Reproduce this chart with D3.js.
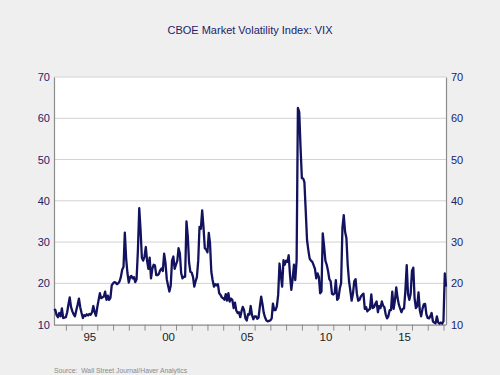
<!DOCTYPE html>
<html>
<head>
<meta charset="utf-8">
<script src="https://cdn.jsdelivr.net/npm/d3@7"></script>
<style>
  html, body { margin: 0; padding: 0; background: #efefef; }
  svg { display: block; font-family: 'Liberation Sans', Arial, sans-serif; }
</style>
</head>
<body>
<div id="chart"></div>
<script>
// Monthly VIX, Apr 1993 through Mar 2018
const startYear = 1993;
const startMonth = 3; // April (0-based)

const vix1990s = [
  13.4, 13.6, 12.3, 11.8, 12.8, 12.0, 13.9, 11.6, 11.7,
  11.8, 13.0, 14.8, 16.6, 14.3, 13.2, 12.5, 12.0, 13.5, 14.8, 16.3, 14.2,
  12.8, 11.6, 12.3, 12.1, 12.5, 12.2, 12.6, 12.4, 13.0, 14.5, 13.0, 12.1,
  14.2, 16.0, 17.6, 16.4, 16.6, 16.8, 18.0, 16.0, 17.0, 16.0, 16.5, 19.5,
  20.0, 20.3, 20.2, 19.8, 20.0, 20.5, 21.5, 23.3, 24.0, 32.3, 26.0, 22.5,
  20.2, 21.5, 21.8, 21.2, 21.5, 20.3, 21.0, 28.0, 38.2, 33.0, 26.2, 25.5,
  26.5, 28.8, 25.5, 23.5, 26.2, 21.2, 23.5, 24.5, 24.3, 22.0, 22.0, 22.3
];

const vix2000s = [
  23.2, 23.6, 23.0, 27.2, 25.0, 21.0, 19.5, 18.0, 19.5, 25.5, 26.5, 23.5,
  24.5, 25.5, 28.5, 27.3, 22.5, 21.2, 21.6, 21.6, 35.0, 31.5, 25.0, 22.8,
  22.6, 21.5, 19.2, 20.5, 21.5, 25.5, 33.7, 33.2, 37.7, 33.7, 28.5, 28.2,
  27.5, 32.2, 29.8, 22.8, 20.8, 19.2, 19.8, 19.5, 19.8, 17.6, 17.2, 16.6,
  16.4, 16.0, 17.4, 15.8, 17.6, 15.6, 16.3, 16.0, 14.0, 15.3, 13.4, 12.8,
  13.0, 11.8, 13.2, 14.3, 13.5, 11.5, 11.0, 12.5, 12.4, 14.5, 12.3, 11.3,
  12.0, 12.0, 11.4, 11.7, 14.3, 16.8, 15.0, 12.8, 11.7, 11.0, 10.8, 10.9,
  11.0, 11.5, 15.1, 13.5, 13.5, 14.5, 17.2, 24.8, 22.0, 19.2, 25.6, 24.5,
  25.5, 25.2, 26.8, 22.0, 18.4, 21.0, 24.5, 20.8, 25.5, 62.5, 61.5, 53.0,
  45.5, 45.4, 44.5, 37.5, 30.5, 28.0, 26.0, 25.5, 25.2, 24.4, 23.5, 21.2
];

const vix2010s = [
  22.4, 21.5, 17.6, 18.0, 32.1, 29.0, 25.5, 24.5, 23.0, 21.0, 20.5, 17.5,
  17.3, 17.6, 20.8, 16.0, 16.4, 18.8, 20.0, 33.5, 36.5, 32.5, 31.0, 24.5,
  20.5, 18.2, 15.8, 17.5, 20.5, 21.0, 17.5, 15.8, 16.0, 16.8, 17.2, 17.5,
  13.8, 14.2, 13.2, 13.6, 13.8, 17.3, 14.0, 14.2, 15.0, 15.6, 13.0, 14.5,
  14.0, 15.6, 14.6, 14.2, 12.5, 11.5, 12.0, 13.5, 13.5, 18.0, 13.8, 15.8,
  19.0, 16.5, 14.9, 13.9, 13.0, 13.8, 13.9, 18.2, 24.4, 17.4, 16.0, 17.4,
  23.0, 23.8, 16.5, 14.0, 14.5, 17.8, 13.5, 12.0, 13.8, 14.9, 15.0, 12.5,
  11.6, 11.5, 12.0, 12.8, 10.8, 10.5, 10.3, 12.0, 10.5, 10.2, 10.5, 10.2,
  10.8, 22.4, 19.2
];

const yTicks = [10, 20, 30, 40, 50, 60, 70];
const labelYears = [1995, 2000, 2005, 2010, 2015];
const titleText = 'CBOE Market Volatility Index: VIX';
const sourceText = 'Source:  Wall Street Journal/Haver Analytics';

const values = [...vix1990s, ...vix2000s, ...vix2010s];
const data = values.map((v, i) => ({ date: new Date(startYear, startMonth + i, 1), value: v }));

const W = 500, H = 375;
const plot = { left: 54, right: 446, top: 77, bottom: 324.6 };

const svg = d3.select('#chart')
  .append('svg')
  .attr('width', W)
  .attr('height', H);

svg.append('rect')
  .attr('width', W)
  .attr('height', H)
  .attr('fill', '#efefef');

// Scales
const x = d3.scaleTime()
  .domain(d3.extent(data, d => d.date))
  .range([plot.left, plot.right]);

const y = d3.scaleLinear()
  .domain([10, 70])
  .range([plot.bottom, plot.top]);

// Plot background
svg.append('rect')
  .attr('x', plot.left)
  .attr('y', plot.top)
  .attr('width', plot.right - plot.left)
  .attr('height', plot.bottom - plot.top)
  .attr('fill', '#fff');

// Gridlines
svg.append('g')
  .selectAll('line')
  .data(yTicks.slice(1))
  .join('line')
  .attr('x1', plot.left)
  .attr('x2', plot.right)
  .attr('y1', d => y(d))
  .attr('y2', d => y(d))
  .attr('stroke', '#d2d2d2')
  .attr('stroke-width', 1);

// Left and right value axes
const leftAxis = svg.append('g')
  .attr('transform', `translate(${plot.left},0)`)
  .call(d3.axisLeft(y).tickValues(yTicks).tickSize(0).tickPadding(4));

const rightAxis = svg.append('g')
  .attr('transform', `translate(${plot.right},0)`)
  .call(d3.axisRight(y).tickValues(yTicks).tickSize(0).tickPadding(5));

[leftAxis, rightAxis].forEach(ax => {
  ax.select('.domain').attr('stroke', '#8c8c8c').attr('stroke-width', 1.2);
  ax.selectAll('text')
    .attr('fill', '#22226a')
    .style('font-size', '11px')
    .style('font-family', "'Liberation Sans', Arial, sans-serif");
});

// Year ticks along the bottom
const yearStarts = d3.timeYear.range(new Date(1994, 0, 1), new Date(2018, 1, 1));
const xAxis = svg.append('g')
  .attr('transform', `translate(0,${plot.bottom})`)
  .call(d3.axisBottom(x).tickValues(yearStarts).tickSize(6).tickFormat(''));

xAxis.select('.domain').remove();
xAxis.selectAll('line').attr('stroke', '#8c8c8c');

svg.append('line')
  .attr('x1', plot.left)
  .attr('x2', plot.right)
  .attr('y1', plot.bottom + 0.5)
  .attr('y2', plot.bottom + 0.5)
  .attr('stroke', '#8c8c8c')
  .attr('stroke-width', 1.2);

// Year labels sit between the ticks
const xLabels = svg.append('g')
  .attr('transform', `translate(0,${plot.bottom})`)
  .call(d3.axisBottom(x)
    .tickValues(labelYears.map(yr => new Date(yr, 6, 1)))
    .tickSize(0)
    .tickPadding(8)
    .tickFormat(d3.timeFormat('%y')));

xLabels.select('.domain').remove();
xLabels.selectAll('text')
  .attr('fill', '#222')
  .style('font-size', '11.5px')
  .style('font-family', "'Liberation Sans', Arial, sans-serif");

// VIX line
const line = d3.line()
  .x(d => x(d.date))
  .y(d => y(d.value));

svg.append('path')
  .datum(data)
  .attr('d', line)
  .attr('fill', 'none')
  .attr('stroke', '#12125e')
  .attr('stroke-width', 2.3)
  .attr('stroke-linejoin', 'round');

// Title
svg.append('text')
  .attr('x', W / 2)
  .attr('y', 34)
  .attr('text-anchor', 'middle')
  .attr('fill', '#22226a')
  .style('font-size', '11px')
  .text(titleText);

// Source note
svg.append('text')
  .attr('x', 54)
  .attr('y', 373)
  .attr('fill', '#8a8a8a')
  .style('font-size', '6.8px')
  .style('white-space', 'pre')
  .text(sourceText);
</script>
</body>
</html>
